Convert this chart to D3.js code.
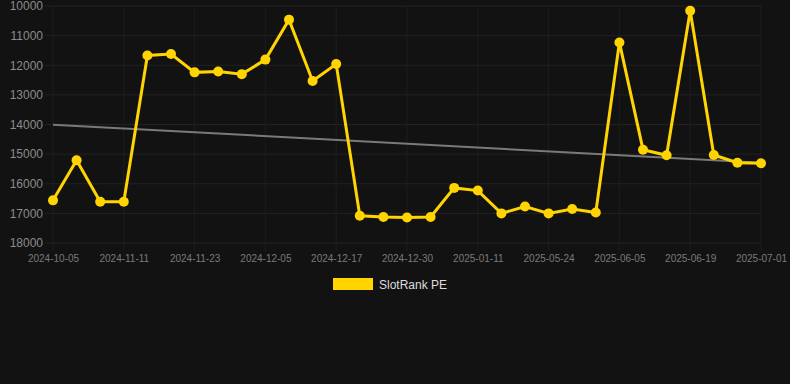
<!DOCTYPE html>
<html>
<head>
<meta charset="utf-8">
<script src="https://cdn.jsdelivr.net/npm/d3@7"></script>
<style>
  html, body { margin: 0; padding: 0; background: #121212; }
  svg { display: block; font-family: "Liberation Sans", Arial, sans-serif; }
</style>
</head>
<body>
<div id="chart"></div>
<script>
const w = 790;
const h = 384;

// SlotRank PE values, one per point (y axis is reversed: lower is better)
const values = [16560, 15210, 16610, 16610, 11670, 11620, 12240, 12210, 12300, 11810,
  10460, 12530, 11960, 17080, 17120, 17140, 17120, 16140, 16230, 17000,
  16770, 17000, 16850, 16970, 11230, 14850, 15040, 10160, 15030, 15290, 15310];
// labels shown on the x axis, every third point
const tickLabels = ["2024-10-05", "2024-11-11", "2024-11-23", "2024-12-05", "2024-12-17",
  "2024-12-30", "2025-01-11", "2025-05-24", "2025-06-05", "2025-06-19", "2025-07-01"];
const yTicks = [10000, 11000, 12000, 13000, 14000, 15000, 16000, 17000, 18000];
const seriesName = "SlotRank PE";

const gold = "#FFD400";

const svg = d3.select("#chart").append("svg")
  .attr("width", w)
  .attr("height", h);

svg.append("rect").attr("width", w).attr("height", h).attr("fill", "#121212");

const idx = d3.range(values.length);
const x = d3.scalePoint().domain(idx).range([53, 761]);
const y = d3.scaleLinear().domain([10000, 18000]).range([6, 243]);

//grid lines
const grid = svg.append("g");
grid.selectAll("line.h").data(yTicks).enter().append("line")
  .attr("x1", 45).attr("x2", 761)
  .attr("y1", d => y(d)).attr("y2", d => y(d))
  .attr("stroke", "#222222").attr("stroke-width", 1);
grid.selectAll("line.v").data(tickLabels).enter().append("line")
  .attr("x1", (d, i) => x(i * 3)).attr("x2", (d, i) => x(i * 3))
  .attr("y1", 6).attr("y2", 251)
  .attr("stroke", "#1d1d1d").attr("stroke-width", 1);

//y axis
const yAxis = svg.append("g")
  .attr("transform", "translate(53,0)")
  .call(d3.axisLeft(y).tickValues(yTicks).tickSize(0).tickPadding(10).tickFormat(d3.format("d")));
yAxis.select(".domain").remove();
yAxis.selectAll("text").attr("fill", "#8c8c8c").attr("font-size", 12).attr("font-family", "Liberation Sans, Arial");

//x axis
const xAxis = svg.append("g")
  .attr("transform", "translate(0,243)")
  .call(d3.axisBottom(x)
    .tickValues(idx.filter(i => i % 3 === 0))
    .tickSize(0).tickPadding(12)
    .tickFormat(i => tickLabels[i / 3]));
xAxis.select(".domain").remove();
xAxis.selectAll("text").attr("fill", "#7a7a7a").attr("font-size", 10).attr("font-family", "Liberation Sans, Arial");

//trend line (least squares)
const mx = d3.mean(idx), my = d3.mean(values);
const slope = d3.sum(idx, i => (i - mx) * (values[i] - my)) / d3.sum(idx, i => (i - mx) * (i - mx));
const trend = i => my + slope * (i - mx);
svg.append("line")
  .attr("x1", x(0)).attr("y1", y(trend(0)))
  .attr("x2", x(values.length - 1)).attr("y2", y(trend(values.length - 1)))
  .attr("stroke", "#7a7a7a").attr("stroke-width", 2);

//series line
const line = d3.line().x(i => x(i)).y(i => y(values[i]));
svg.append("path")
  .datum(idx)
  .attr("d", line)
  .attr("fill", "none")
  .attr("stroke", gold)
  .attr("stroke-width", 3)
  .attr("stroke-linejoin", "miter");

svg.selectAll("circle.pt").data(idx).enter().append("circle")
  .attr("cx", i => x(i))
  .attr("cy", i => y(values[i]))
  .attr("r", 5)
  .attr("fill", gold);

//legend
const legend = svg.append("g");
legend.append("rect")
  .attr("x", 333).attr("y", 278).attr("width", 40).attr("height", 12)
  .attr("fill", gold);
legend.append("text")
  .attr("x", 379).attr("y", 288.5)
  .attr("font-size", 12)
  .attr("fill", "#dddddd")
  .text(seriesName);
</script>
</body>
</html>
